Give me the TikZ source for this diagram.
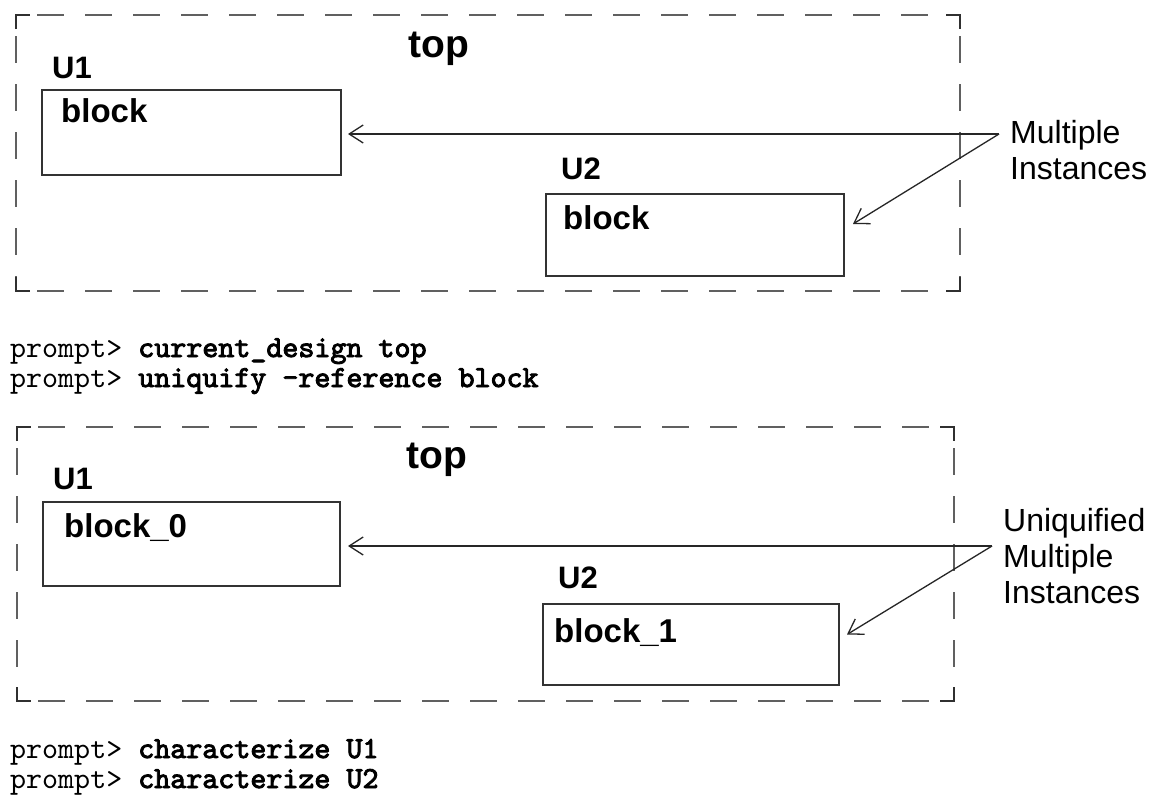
\documentclass[tikz,border=0pt]{standalone}
\usepackage{fontspec}
\setmainfont{Liberation Sans}
\setmonofont{lmmono10-regular.otf}[BoldFont=lmmono10-regular.otf, BoldFeatures={FakeBold=3}]
\usetikzlibrary{arrows.meta}
\definecolor{dashgray}{HTML}{606060}
\definecolor{cornergray}{HTML}{303030}
\definecolor{boxline}{HTML}{333333}
\begin{document}
\begin{tikzpicture}[x=1pt,y=-1pt,
  frame/.style={draw=dashgray, line width=2pt, dash pattern=on 27pt off 21pt, dash phase=27pt},
  corner/.style={draw=cornergray, line width=2pt},
  box/.style={draw=boxline, line width=1.5pt, inner sep=0pt, outer sep=0pt, anchor=north west},
  inst/.style={font=\fontsize{31}{36}\selectfont\bfseries, inner sep=0pt, anchor=base west},
  topl/.style={font=\fontsize{39}{44}\selectfont\bfseries, inner sep=0pt, anchor=base west},
  blk/.style={font=\fontsize{33}{38}\selectfont\bfseries, inner sep=0pt, anchor=base west},
  note/.style={font=\fontsize{32}{36}\selectfont, inner sep=0pt, anchor=base west, align=left},
  cmd/.style={font=\fontsize{30.5}{30}\selectfont\ttfamily, inner sep=0pt, anchor=base west},
  arr/.style={draw=black!85, line width=1.3pt, -{Straight Barb[length=14pt,width=18pt]}}
]
\useasboundingbox (0,0) rectangle (1163,798);
\fill[white] (0,0) rectangle (1163,798);

% ---------- first design ----------
\draw[frame] (16,15) -- (960,15);
\draw[frame] (16,15) -- (16,291);
\draw[frame] (16,291) -- (960,291);
\draw[frame] (960,15) -- (960,291);
\draw[corner] (16,29) -- (16,15) -- (30,15);
\draw[corner] (946,15) -- (960,15) -- (960,29);
\draw[corner] (16,277) -- (16,291) -- (30,291);
\draw[corner] (946,291) -- (960,291) -- (960,277);

\node[topl] (topA) at (408,57) {top};
\node[inst] (u1A) at (52,78) {U1};
\node[box, minimum width=299pt, minimum height=85pt] (b1A) at (42,90) {};
\node[blk] (t1A) at (61,122) {block};
\node[inst] (u2A) at (561,179) {U2};
\node[box, minimum width=298pt, minimum height=82pt] (b2A) at (546,194) {};
\node[blk] (t2A) at (563,229) {block};
\node[note] (nA) at (1010,179) {Multiple\\Instances};
\coordinate (oA) at (999,134);
\draw[arr, shorten >=7pt] (oA) -- (oA -| b1A.east);
\draw[arr] (oA) -- ([xshift=9pt,yshift=11pt]b2A.east);

% ---------- commands ----------
\node[cmd] (c1) at (10,357) {prompt> \textbf{current\_design top}};
\node[cmd] (c2) at (10,387) {prompt> \textbf{uniquify -reference block}};

% ---------- second design ----------
\draw[frame] (17,427) -- (954,427);
\draw[frame] (17,427) -- (17,701);
\draw[frame] (17,701) -- (954,701);
\draw[frame] (954,427) -- (954,701);
\draw[corner] (17,441) -- (17,427) -- (31,427);
\draw[corner] (940,427) -- (954,427) -- (954,441);
\draw[corner] (17,687) -- (17,701) -- (31,701);
\draw[corner] (940,701) -- (954,701) -- (954,687);

\node[topl] (topB) at (406,468) {top};
\node[inst] (u1B) at (53,489) {U1};
\node[box, minimum width=297pt, minimum height=84pt] (b1B) at (43,502) {};
\node[blk] (t1B) at (64,537) {block\_0};
\node[inst] (u2B) at (558,588) {U2};
\node[box, minimum width=296pt, minimum height=81pt] (b2B) at (543,604) {};
\node[blk] (t2B) at (554,642) {block\_1};
\node[note] (nB) at (1003,603) {Uniquified\\Multiple\\Instances};
\coordinate (oB) at (992,546);
\draw[arr, shorten >=8pt] (oB) -- (oB -| b1B.east);
\draw[arr] (oB) -- ([xshift=8pt,yshift=10pt]b2B.east);

\node[cmd] (c3) at (10,758) {prompt> \textbf{characterize U1}};
\node[cmd] (c4) at (10,788) {prompt> \textbf{characterize U2}};
\end{tikzpicture}
\end{document}
